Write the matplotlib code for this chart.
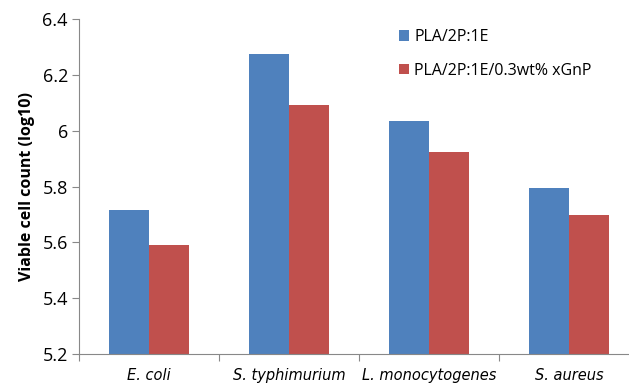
import numpy as np
import matplotlib.pyplot as plt
from matplotlib.ticker import FuncFormatter, FixedLocator

# 数据
categories = ['E. coli', 'S. typhimurium', 'L. monocytogenes', 'S. aureus']
series_names = ['PLA/2P:1E', 'PLA/2P:1E/0.3wt% xGnP']
pla_values = [5.716, 6.273, 6.036, 5.794]
xgnp_values = [5.590, 6.091, 5.925, 5.698]
y_ticks = [5.2, 5.4, 5.6, 5.8, 6.0, 6.2, 6.4]

colors = ['#4F81BD', '#C0504D']
axis_color = '#888888'

fig = plt.figure(figsize=(6.29, 3.86), dpi=100)
ax = fig.add_axes([79 / 629, 32 / 386, 560 / 629, 335 / 386])

x = np.arange(len(categories))
w = 0.286
ax.bar(x - w / 2, pla_values, w, color=colors[0], label=series_names[0])
ax.bar(x + w / 2, xgnp_values, w, color=colors[1], label=series_names[1])

ax.set_xlim(-0.5, len(categories) - 0.5)
ax.set_ylim(5.2, 6.4)
ax.set_yticks(y_ticks)
ax.yaxis.set_major_formatter(FuncFormatter(lambda v, p: '{:g}'.format(round(v, 2))))

# x轴：刻度在类别之间
ax.xaxis.set_major_locator(FixedLocator(np.arange(len(categories)) - 0.5))
ax.set_xticklabels([''] * len(categories))
ax.xaxis.set_minor_locator(FixedLocator(x))
ax.set_xticklabels(categories, minor=True, fontstyle='italic',
                   fontfamily='DejaVu Sans', fontsize=10.5)
ax.tick_params(axis='x', which='minor', length=0, pad=10)
ax.tick_params(axis='x', which='major', length=5, color=axis_color)
ax.tick_params(axis='y', length=5, color=axis_color, labelsize=13, pad=3)
for lbl in ax.get_yticklabels():
    lbl.set_fontfamily('Open Sans')

for side in ['top', 'right']:
    ax.spines[side].set_visible(False)
for side in ['left', 'bottom']:
    ax.spines[side].set_color(axis_color)

ax.set_ylabel('Viable cell count (log10)', fontsize=11.5, fontweight='bold',
              fontfamily='Open Sans', labelpad=5)

ax.legend(loc='upper left', bbox_to_anchor=(399 / 629, 1 - 29 / 386), bbox_transform=fig.transFigure,
          frameon=False, prop={'family': 'Open Sans', 'size': 11.5},
          borderpad=0, borderaxespad=0,
          handlelength=0.65, handleheight=0.65, handletextpad=0.3, labelspacing=1.1)

plt.savefig('out.png', dpi=100)
